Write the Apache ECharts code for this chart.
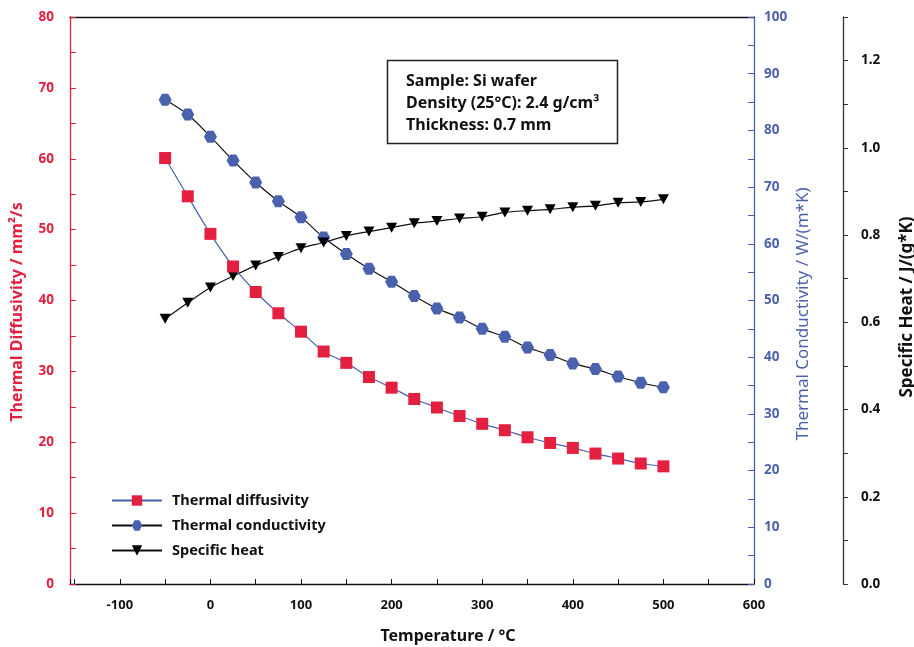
<!DOCTYPE html>
<html>
<head>
<meta charset="utf-8">
<script src="https://cdn.jsdelivr.net/npm/echarts@6/dist/echarts.min.js"></script>
<style>
html,body{margin:0;padding:0;background:#fff;}
#chart{width:914px;height:647px;}
</style>
</head>
<body>
<div id="chart"></div>
<script>
// ---- data ----
var temperatures = [-50, -25, 0, 25, 50, 75, 100, 125, 150, 175, 200, 225, 250, 275, 300, 325, 350, 375, 400, 425, 450, 475, 500];
var diffusivity = [60.1, 54.7, 49.4, 44.8, 41.2, 38.2, 35.6, 32.8, 31.2, 29.2, 27.7, 26.1, 24.9, 23.7, 22.6, 21.7, 20.7, 19.9, 19.2, 18.4, 17.7, 17.0, 16.6];
var conductivity = [85.4, 82.8, 78.9, 74.7, 70.8, 67.5, 64.7, 61.1, 58.2, 55.6, 53.3, 50.8, 48.6, 47.0, 45.0, 43.6, 41.7, 40.4, 38.9, 37.9, 36.6, 35.5, 34.7];
var specificHeat = [0.608, 0.645, 0.680, 0.706, 0.730, 0.750, 0.770, 0.783, 0.798, 0.808, 0.817, 0.827, 0.832, 0.838, 0.842, 0.852, 0.856, 0.859, 0.864, 0.867, 0.874, 0.876, 0.882];
var seriesNames = ['Thermal diffusivity', 'Thermal conductivity', 'Specific heat'];
var infoLines = ['Sample: Si wafer', 'Density (25°C): 2.4 g/cm³', 'Thickness: 0.7 mm'];

function pairs(ys) { return temperatures.map(function (t, i) { return [t, ys[i]]; }); }

var RED = '#e3203f', BLUE = '#4a62ad', BLACK = '#111';
var FONT = '"Noto Sans", "Open Sans", sans-serif';
var hexagon = 'path://M0,5 L2.6,0.5 L7.4,0.5 L10,5 L7.4,9.5 L2.6,9.5 Z';

var chart = echarts.init(document.getElementById('chart'), null, { renderer: 'canvas' });
var option = {
  backgroundColor: '#fff',
  animation: false,
  textStyle: { fontFamily: FONT },
  grid: { left: 70, right: 160, top: 17, bottom: 63, containLabel: false },
  legend: {
    orient: 'vertical', left: 106, top: 488,
    itemWidth: 50, itemHeight: 13, itemGap: 10,
    data: seriesNames,
    textStyle: { fontFamily: FONT, fontWeight: 'bold', fontSize: 14.5, color: BLACK, padding: [0, 0, 0, 5] }
  },
  xAxis: [{
    type: 'value', min: -155, max: 600, minInterval: 50, maxInterval: 50,
    position: 'bottom',
    axisLine: { onZero: false, lineStyle: { color: BLACK, width: 1.3 } },
    axisTick: { inside: true, length: 5, lineStyle: { color: BLACK } },
    axisLabel: {
      margin: 15, color: BLACK, fontWeight: 'bold', fontSize: 13, fontFamily: FONT,
      formatter: function (v) { return (Math.round(v) % 100 === 0) ? String(Math.round(v)) : ''; }
    },
    splitLine: { show: false }
  }, {
    type: 'value', min: -155, max: 600, position: 'top',
    axisLine: { onZero: false, lineStyle: { color: BLACK, width: 1.3 } },
    axisTick: { show: false }, axisLabel: { show: false }, splitLine: { show: false }
  }],
  yAxis: [{
    type: 'value', min: 0, max: 80, interval: 5, position: 'left',
    axisLine: { show: true, onZero: false, lineStyle: { color: RED, width: 1.3 } },
    axisTick: { show: true, inside: true, length: 6, lineStyle: { color: RED } },
    axisLabel: {
      margin: 16, color: RED, fontWeight: 'bold', fontSize: 13.5, fontFamily: FONT,
      formatter: function (v) { return (Math.round(v) % 10 === 0) ? String(Math.round(v)) : ''; }
    },
    splitLine: { show: false }
  }, {
    type: 'value', min: 0, max: 100, interval: 5, position: 'right',
    axisLine: { show: true, onZero: false, lineStyle: { color: BLUE, width: 1.3 } },
    axisTick: { show: true, inside: true, length: 6, lineStyle: { color: BLUE } },
    axisLabel: {
      margin: 10, color: BLUE, fontWeight: 'bold', fontSize: 13.5, fontFamily: FONT,
      formatter: function (v) { return (Math.round(v) % 10 === 0) ? String(Math.round(v)) : ''; }
    },
    splitLine: { show: false }
  }, {
    type: 'value', min: 0, max: 1.3, interval: 0.1, position: 'right', offset: 89,
    axisLine: { show: true, onZero: false, lineStyle: { color: '#333', width: 1.3 } },
    axisTick: { show: true, inside: false, length: 5, lineStyle: { color: '#333' } },
    axisLabel: {
      margin: 18, color: BLACK, fontWeight: 'bold', fontSize: 13.5, fontFamily: FONT,
      formatter: function (v) { var k = Math.round(v * 10); return k % 2 === 0 ? (k / 10).toFixed(1) : ''; }
    },
    splitLine: { show: false }
  }],
  series: [{
    name: seriesNames[0], type: 'line', xAxisIndex: 0, yAxisIndex: 0,
    data: pairs(diffusivity), smooth: 0.3,
    symbol: 'rect', symbolSize: 12,
    itemStyle: { color: RED, borderWidth: 0 },
    lineStyle: { color: BLUE, width: 1.2 }, z: 3
  }, {
    name: seriesNames[1], type: 'line', xAxisIndex: 0, yAxisIndex: 1,
    data: pairs(conductivity), smooth: 0.3,
    symbol: hexagon, symbolSize: [13, 12],
    itemStyle: { color: BLUE, borderWidth: 0 },
    lineStyle: { color: BLACK, width: 1.2 }, z: 2
  }, {
    name: seriesNames[2], type: 'line', xAxisIndex: 0, yAxisIndex: 2,
    data: pairs(specificHeat), smooth: 0.3,
    symbol: 'triangle', symbolRotate: 180, symbolSize: [11, 10],
    itemStyle: { color: '#000', borderWidth: 0 },
    lineStyle: { color: BLACK, width: 1.2 }, z: 2
  }],
  graphic: [
    { type: 'text', x: 17, y: 312, rotation: Math.PI / 2,
      style: { text: 'Thermal Diffusivity / mm²/s', fill: RED, font: 'bold 16px ' + FONT, align: 'center', verticalAlign: 'middle' } },
    { type: 'text', x: 803, y: 314, rotation: Math.PI / 2,
      style: { text: 'Thermal Conductivity / W/(m*K)', fill: BLUE, font: '17px ' + FONT, align: 'center', verticalAlign: 'middle' } },
    { type: 'text', x: 907, y: 307, rotation: Math.PI / 2,
      style: { text: 'Specific Heat / J/(g*K)', fill: BLACK, font: 'bold 17px ' + FONT, align: 'center', verticalAlign: 'middle' } },
    { type: 'text', x: 448, y: 636,
      style: { text: 'Temperature / °C', fill: BLACK, font: 'bold 16px ' + FONT, align: 'center', verticalAlign: 'middle' } },
    { type: 'rect', shape: { x: 387.5, y: 60.5, width: 230, height: 83 },
      style: { fill: '#fff', stroke: '#222', lineWidth: 1.5 }, z: 10 },
    { type: 'text', x: 406, y: 81, z: 11,
      style: { text: infoLines[0], fill: BLACK, font: 'bold 16px ' + FONT, verticalAlign: 'middle' } },
    { type: 'text', x: 406, y: 103, z: 11,
      style: { text: infoLines[1], fill: BLACK, font: 'bold 16px ' + FONT, verticalAlign: 'middle' } },
    { type: 'text', x: 406, y: 125, z: 11,
      style: { text: infoLines[2], fill: BLACK, font: 'bold 16px ' + FONT, verticalAlign: 'middle' } }
  ]
};
chart.setOption(option);
</script>
</body>
</html>
